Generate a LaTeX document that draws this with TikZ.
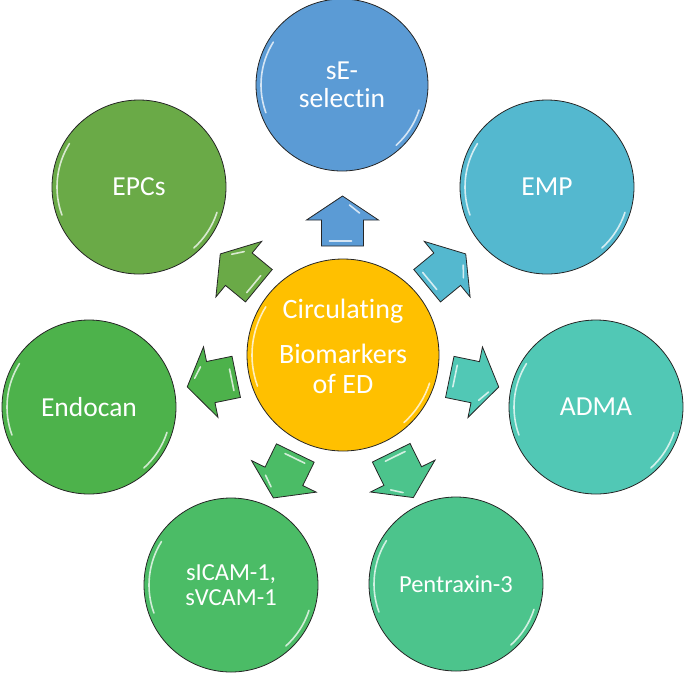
\documentclass[tikz,border=0pt]{standalone}
\usepackage{fontspec}
\setmainfont{Carlito}[Ligatures={NoCommon,NoContextual}]
\usetikzlibrary{calc}
\newcommand{\nolig}{\kern0pt}
\definecolor{cCen}{HTML}{FFC000}
\definecolor{cSE}{HTML}{5B9BD5}
\definecolor{cEMP}{HTML}{54B8CF}
\definecolor{cADMA}{HTML}{51C8B5}
\definecolor{cPTX}{HTML}{4CC48C}
\definecolor{cICAM}{HTML}{4BBC66}
\definecolor{cENDO}{HTML}{4DB24B}
\definecolor{cEPC}{HTML}{6AAA47}
\begin{document}
\begin{tikzpicture}[x=1pt,y=-1pt,
  bub/.style={circle, draw=black!85, line width=0.8pt, inner sep=0pt, text=white, align=center, minimum size=#1},
  bub/.default=174pt,
  big/.style={font=\fontsize{27.5}{28.5}\selectfont},
  small/.style={font=\fontsize{24.5}{25}\selectfont},
  lbl/.style={text=white, font=\fontsize{28}{30}\selectfont, anchor=base, inner sep=0pt},
  blk/.style={draw=black!85, line width=0.8pt, line join=miter},
  hl/.style={white, line width=1.6pt, opacity=0.75, line cap=round}]

\useasboundingbox (0,0) rectangle (685,673);

% central circle
\node[bub=192pt, fill=cCen] (c) at (343,355) {};
\node[lbl] (c1) at (343,318) {Circulat\nolig ing};
\node[lbl] (c2) at (343,363) {Biomarkers};
\node[lbl] (c3) at (343,393) {of ED};

% outer circles
\node[bub=172pt, fill=cSE, big] (se) at (342,85) {sE-\\select\nolig in};
\node[bub, fill=cEMP, big] (emp) at (547,187) {EMP};
\node[bub, fill=cADMA, big] (adma) at (596,407) {ADMA};
\node[bub, fill=cPTX, small] (ptx) at (456,584) {Pentraxin-3};
\node[bub, fill=cICAM, small] (icam) at (231,585) {sICAM-1,\\sVCAM-1};
\node[bub, fill=cENDO, big] (endo) at (89,407) {Endocan};
\node[bub, fill=cEPC, big] (epc) at (139,187) {EPCs};

% glossy highlights on circles
\foreach \n/\r in {c/91, se/81, emp/82, adma/82, ptx/82, icam/82, endo/82, epc/82}{
  \draw[hl] ([shift={(160:\r)}]\n.center) arc[start angle=160, end angle=212, radius=\r];
  \draw[hl] ([shift={(18:\r)}]\n.center) arc[start angle=18, end angle=48, radius=\r];
}

% block arrows
\foreach \o/\a/\col in {se/90/cSE, emp/39.5/cEMP, adma/-11.6/cADMA, ptx/-63.7/cPTX, icam/-116/cICAM, endo/-168.4/cENDO, epc/140.5/cEPC}{
  \begin{scope}[shift={($(c)!134pt!(\o)$)}, rotate=\a]
    \draw[blk, fill=\col] (-25,-21) -- (1,-21) -- (1,-36) -- (25,0) -- (1,36) -- (1,21) -- (-25,21) -- cycle;
    \draw[hl] (-20,-13) -- (-20,9);
    \draw[hl] (16,7) -- (8,17);
  \end{scope}
}
\end{tikzpicture}
\end{document}
